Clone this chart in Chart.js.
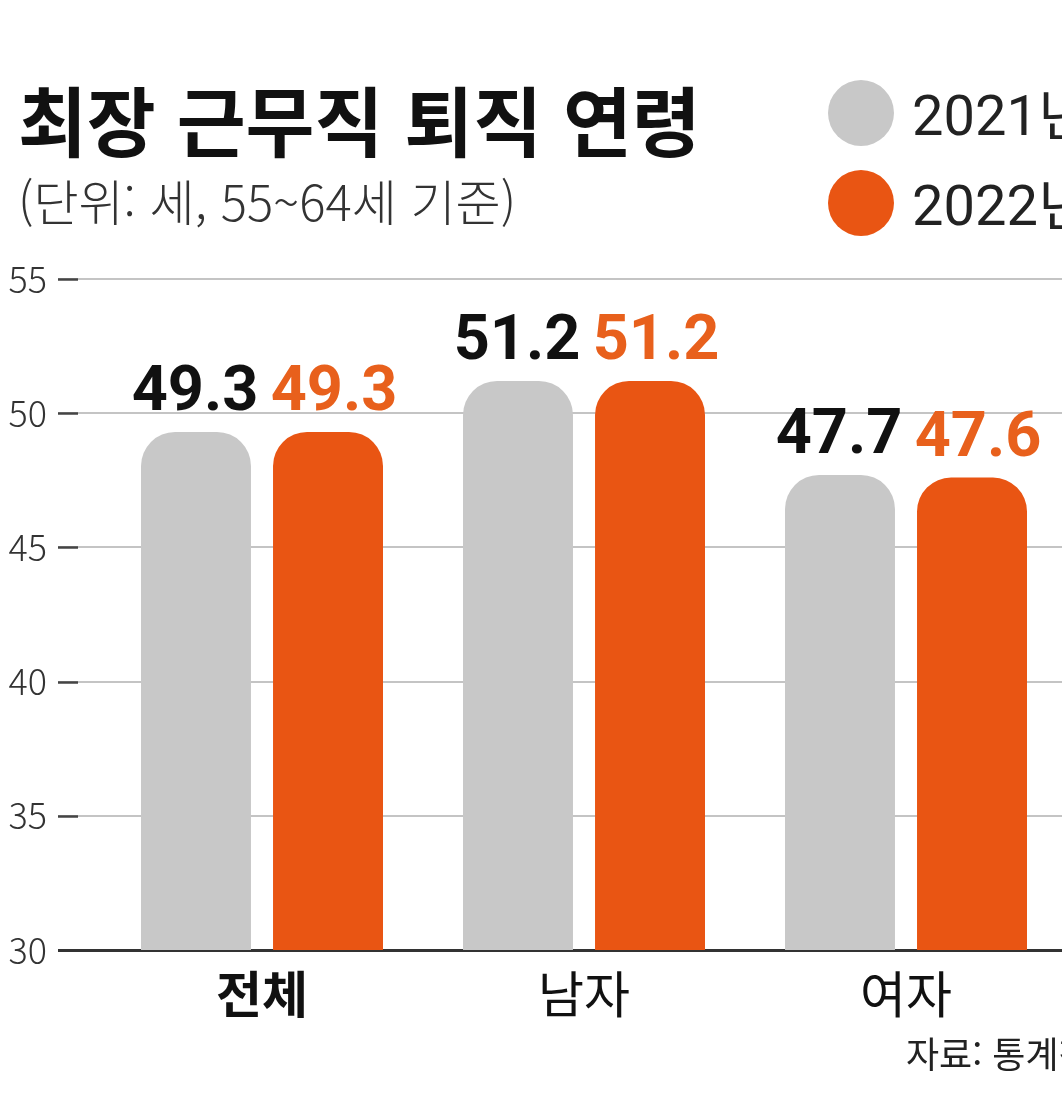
<!DOCTYPE html>
<html lang="ko">
<head>
<meta charset="utf-8">
<script src="https://cdn.jsdelivr.net/npm/chart.js@4/dist/chart.umd.min.js"></script>
<style>
  html, body { margin:0; padding:0; width:1062px; height:1104px; overflow:hidden; background:#fff; }
  #wrap { position:absolute; left:0; top:0; width:1100px; height:1104px; }
  .txt { position:absolute; white-space:nowrap; font-family:"Noto Sans CJK KR","Noto Sans",sans-serif; }
  #title { left:18px; top:80px; font-size:76px; line-height:1; font-weight:700; color:#111; transform:scaleX(0.985); transform-origin:left top; }
  #subtitle { left:18px; top:175px; font-size:49px; line-height:1; font-weight:300; color:#333; }
  .dot { position:absolute; width:66px; height:66px; border-radius:50%; }
  .leg { font-family:Roboto,"Noto Sans CJK KR",sans-serif; font-size:56px; line-height:1; font-weight:400; color:#222; }
  #source { left:906px; top:1034px; font-size:36px; line-height:1; color:#222; }
</style>
</head>
<body>
<div id="wrap"><canvas id="c"></canvas></div>
<div id="title" class="txt">최장 근무직 퇴직 연령</div>
<div id="subtitle" class="txt">(단위: 세, 55~64세 기준)</div>
<div id="dot1" class="dot" style="left:828px;top:80px;background:#c8c8c8;"></div>
<div id="dot2" class="dot" style="left:828px;top:170px;background:#e95513;"></div>
<div id="leg1" class="txt leg" style="left:912px;top:88px;">2021년</div>
<div id="leg2" class="txt leg" style="left:912px;top:178px;">2022년</div>
<div id="source" class="txt">자료: 통계청</div>
<script>
const categories = ['전체', '남자', '여자'];
const seriesNames = ['2021년', '2022년'];
const values2021 = [49.3, 51.2, 47.7];
const values2022 = [49.3, 51.2, 47.6];
const yTickValues = [30, 35, 40, 45, 50, 55];

const GRAY = '#c8c8c8';
const ORANGE = '#e95513';
const LABEL_COLORS = ['#111111', '#e8601c'];
const LABEL_SHIFT = [-1, 6];

const valueLabels = {
  id: 'valueLabels',
  afterDatasetsDraw(chart) {
    const ctx = chart.ctx;
    ctx.save();
    ctx.font = 'bold 63px Roboto, "Noto Sans", sans-serif';
    ctx.textAlign = 'center';
    ctx.textBaseline = 'alphabetic';
    chart.data.datasets.forEach((ds, di) => {
      const meta = chart.getDatasetMeta(di);
      meta.data.forEach((bar, i) => {
        ctx.fillStyle = LABEL_COLORS[di];
        ctx.fillText(ds.data[i].toFixed(1), bar.x + LABEL_SHIFT[di], bar.y - 22);
      });
    });
    ctx.restore();
  }
};

const tickDashes = {
  id: 'tickDashes',
  beforeDatasetsDraw(chart) {
    const ctx = chart.ctx;
    const y = chart.scales.y;
    ctx.save();
    ctx.strokeStyle = '#444';
    ctx.lineWidth = 2.5;
    y.ticks.forEach(t => {
      if (t.value === 30) return;
      const py = Math.round(y.getPixelForValue(t.value)) + 0.5;
      ctx.beginPath();
      ctx.moveTo(58, py);
      ctx.lineTo(78, py);
      ctx.stroke();
    });
    ctx.restore();
  }
};

new Chart(document.getElementById('c'), {
  type: 'bar',
  data: {
    labels: categories,
    datasets: [
      { label: seriesNames[0], data: values2021, backgroundColor: GRAY },
      { label: seriesNames[1], data: values2022, backgroundColor: ORANGE }
    ]
  },
  options: {
    responsive: true,
    maintainAspectRatio: false,
    animation: false,
    layout: { padding: { top: 279, right: 33, left: 0, bottom: 0 } },
    datasets: {
      bar: {
        categoryPercentage: 0.82,
        barPercentage: 0.833,
        borderRadius: { topLeft: 34, topRight: 34, bottomLeft: 0, bottomRight: 0 },
        borderSkipped: 'bottom'
      }
    },
    plugins: {
      legend: { display: false },
      title: { display: false },
      tooltip: { enabled: false }
    },
    scales: {
      x: {
        grid: { display: false, drawTicks: false },
        border: { display: false },
        ticks: {
          padding: 14,
          color: '#111',
          font: (c) => ({ family: '"Noto Sans CJK KR", sans-serif', size: 50, weight: c.index === 0 ? 'bold' : 'normal' })
        },
        afterFit(s) { s.height = 154; }
      },
      y: {
        min: 30,
        max: 55,
        afterBuildTicks(s) { s.ticks = yTickValues.map(v => ({ value: v })); },
        grid: {
          color: (c) => c.tick && c.tick.value === 30 ? '#333' : '#c4c4c4',
          tickColor: (c) => c.tick && c.tick.value === 30 ? '#333' : '#c4c4c4',
          lineWidth: (c) => c.tick && c.tick.value === 30 ? 3 : 2,
          drawTicks: true,
          tickLength: 43
        },
        border: { display: false },
        ticks: {
          padding: 11,
          color: '#333',
          font: { family: '"Noto Sans CJK KR", Roboto, sans-serif', size: 36, weight: '300' },
          callback: (v) => String(v)
        },
        afterFit(s) { s.width = 101; }
      }
    }
  },
  plugins: [valueLabels, tickDashes]
});
</script>
</body>
</html>
